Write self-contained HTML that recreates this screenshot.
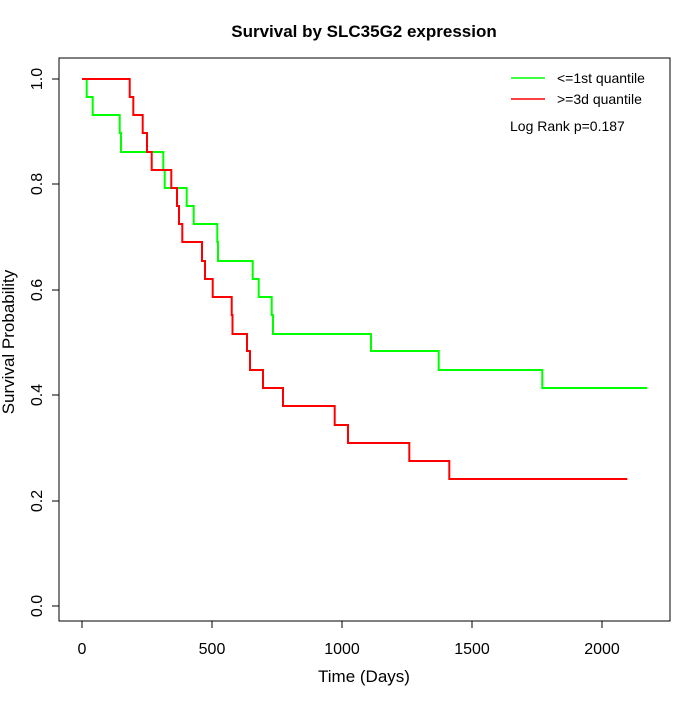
<!DOCTYPE html><html><head><style>body{margin:0;background:#fff}</style></head><body>
<svg width="700" height="700" xmlns="http://www.w3.org/2000/svg" font-family="Liberation Sans, sans-serif">
<rect width="700" height="700" fill="#fff"/>
<text x="364" y="37" text-anchor="middle" font-size="17" font-weight="bold">Survival by SLC35G2 expression</text>
<rect x="59" y="58" width="611" height="563" fill="none" stroke="#000"/>
<g stroke="#000">
<line x1="82" y1="621" x2="602" y2="621"/>
<line x1="82" y1="621" x2="82" y2="628"/><line x1="212" y1="621" x2="212" y2="628"/><line x1="342" y1="621" x2="342" y2="628"/><line x1="472" y1="621" x2="472" y2="628"/><line x1="602" y1="621" x2="602" y2="628"/>
<line x1="59" y1="79" x2="59" y2="606"/>
<line x1="52" y1="79" x2="59" y2="79"/><line x1="52" y1="184" x2="59" y2="184"/><line x1="52" y1="290" x2="59" y2="290"/><line x1="52" y1="395" x2="59" y2="395"/><line x1="52" y1="501" x2="59" y2="501"/><line x1="52" y1="606" x2="59" y2="606"/>
</g>
<g font-size="16" text-anchor="middle">
<text x="82" y="654">0</text><text x="212" y="654">500</text><text x="342" y="654">1000</text><text x="472" y="654">1500</text><text x="602" y="654">2000</text>
<g transform="translate(42,0)">
<text transform="translate(0,79) rotate(-90)">1.0</text>
<text transform="translate(0,184) rotate(-90)">0.8</text>
<text transform="translate(0,290) rotate(-90)">0.6</text>
<text transform="translate(0,395) rotate(-90)">0.4</text>
<text transform="translate(0,501) rotate(-90)">0.2</text>
<text transform="translate(0,606) rotate(-90)">0.0</text>
</g>
<text x="364" y="682" font-size="17">Time (Days)</text>
<text transform="translate(14,342) rotate(-90)" font-size="17">Survival Probability</text>
</g>
<polyline fill="none" stroke="#00ff00" stroke-width="2" points="82,79 86.7,79 86.7,97 92.7,97 92.7,115 119.7,115 119.7,133 121,133 121,152 163.3,152 163.3,170 164.7,170 164.7,188 186.7,188 186.7,206 193.7,206 193.7,224 217.3,224 217.3,242 218,242 218,261 252.7,261 252.7,279 258.7,279 258.7,297 271.7,297 271.7,315 273,315 273,334 371,334 371,351 438.7,351 438.7,370 542.3,370 542.3,388 647.3,388"/>
<polyline fill="none" stroke="#ff0000" stroke-width="2" points="82,79 129.7,79 129.7,97 133.3,97 133.3,115 142.7,115 142.7,133 147,133 147,152 151.7,152 151.7,170 171.3,170 171.3,188 177,188 177,206 179,206 179,224 182.3,224 182.3,242 202,242 202,261 205,261 205,279 212.7,279 212.7,297 231.7,297 231.7,315 232.5,315 232.5,334 247,334 247,351 250,351 250,370 263,370 263,388 283,388 283,406 334.7,406 334.7,425 348,425 348,443 409.3,443 409.3,461 449.3,461 449.3,479 627.3,479"/>
<line x1="511" y1="78" x2="545" y2="78" stroke="#00ff00" stroke-width="1.5"/>
<line x1="511" y1="99" x2="545" y2="99" stroke="#ff0000" stroke-width="1.5"/>
<g font-size="14"><text x="557" y="83">&lt;=1st quantile</text><text x="557" y="104">&gt;=3d quantile</text><text x="510" y="131">Log Rank p=0.187</text></g>
</svg></body></html>
